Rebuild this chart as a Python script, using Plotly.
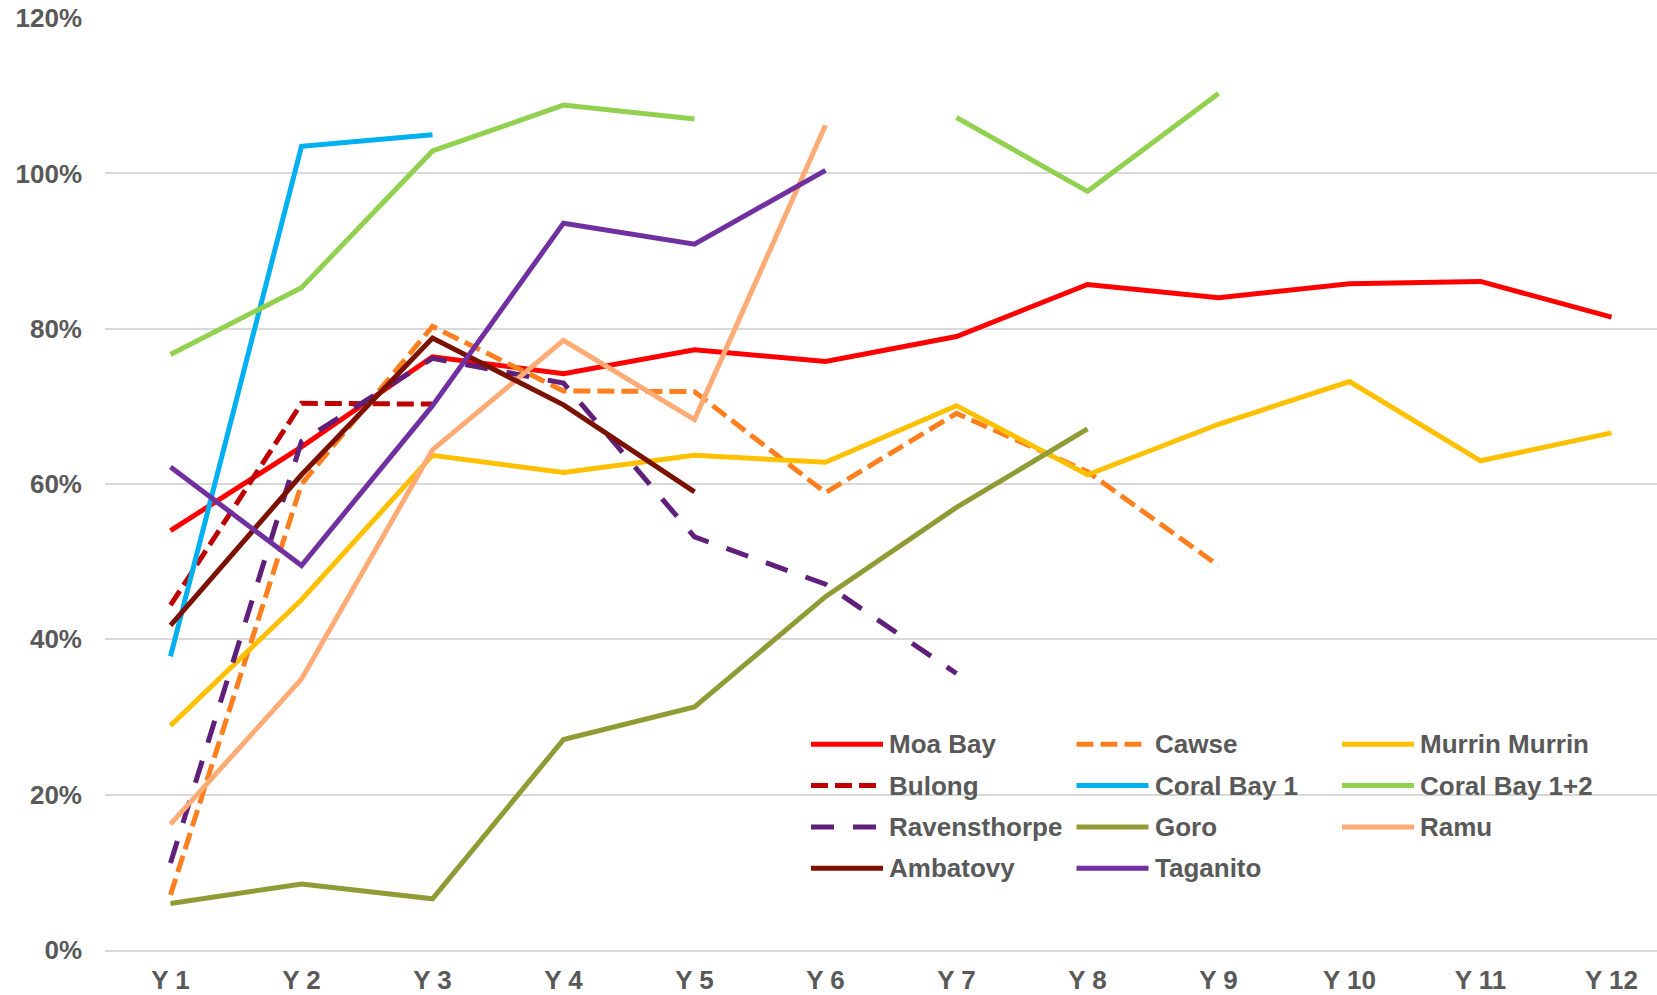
import plotly.graph_objects as go

# ---------------- data (percent) ----------------
categories = ["Y 1", "Y 2", "Y 3", "Y 4", "Y 5", "Y 6", "Y 7", "Y 8", "Y 9", "Y 10", "Y 11", "Y 12"]

moa_bay = [54.0, 64.8, 76.4, 74.2, 77.3, 75.8, 79.0, 85.7, 84.0, 85.8, 86.1, 81.5]
cawse = [7.1, 60.0, 80.3, 72.0, 71.9, 58.9, 69.1, 61.6, 49.5, None, None, None]
murrin_murrin = [28.9, 45.1, 63.7, 61.5, 63.7, 62.8, 70.1, 61.2, 67.7, 73.2, 63.0, 66.6]
bulong = [44.4, 70.4, 70.3, None, None, None, None, None, None, None, None, None]
coral_bay_1 = [37.8, 103.5, 105.0, None, None, None, None, None, None, None, None, None]
coral_bay_12 = [76.7, 85.3, 102.9, 108.8, 107.0, None, 107.2, 97.7, 110.3, None, None, None]
ravensthorpe = [11.2, 65.5, 76.2, 73.0, 53.2, 47.1, 35.6, None, None, None, None, None]
goro = [6.0, 8.5, 6.6, 27.1, 31.3, 45.5, 57.0, 67.1, None, None, None, None]
ramu = [16.2, 34.9, 64.4, 78.5, 68.3, 106.2, None, None, None, None, None, None]
ambatovy = [41.8, 61.2, 78.8, 70.2, 59.0, None, None, None, None, None, None, None]
taganito = [62.2, 49.5, 70.1, 93.6, 90.9, 100.4, None, None, None, None, None, None]

y_tick_values = [0, 20, 40, 60, 80, 100, 120]
y_tick_labels = ["0%", "20%", "40%", "60%", "80%", "100%", "120%"]

series_names = ["Moa Bay", "Cawse", "Murrin Murrin", "Bulong", "Coral Bay 1", "Coral Bay 1+2",
                "Ravensthorpe", "Goro", "Ramu", "Ambatovy", "Taganito"]
series_values = [moa_bay, cawse, murrin_murrin, bulong, coral_bay_1, coral_bay_12,
                 ravensthorpe, goro, ramu, ambatovy, taganito]

# ---------------- styles ----------------
colors = {
    "Moa Bay": "#FF0000",
    "Cawse": "#FF7F1F",
    "Murrin Murrin": "#FFC000",
    "Bulong": "#C00000",
    "Coral Bay 1": "#00B0F0",
    "Coral Bay 1+2": "#92D050",
    "Ravensthorpe": "#5F1F7A",
    "Goro": "#8F9C36",
    "Ramu": "#FFAB76",
    "Ambatovy": "#7B1100",
    "Taganito": "#7030A0",
}
short_dash = "17px,7px"
long_dash = "23px,19px"
dashes = {"Cawse": short_dash, "Bulong": short_dash, "Ravensthorpe": long_dash}

LW = 5
TEXT = "#595959"
FONT = "Liberation Sans, Arial, sans-serif"

# page geometry (body margin removed, figure fills the window)
W, H = 1657, 995
PL, PT, PB, PR = 105, 18, 950, 1657          # plot area in page pixels
ML, MT, MR, MB = PL, PT, W - PR, H - PB
PW, PH = PR - PL, PB - PT
CAT_PX = 131.0
Y_MAX = 120.02

fig = go.Figure()
for name, vals in zip(series_names, series_values):
    fig.add_trace(go.Scatter(
        x=categories, y=vals, name=name, mode="lines",
        line=dict(color=colors[name], width=LW, dash=dashes.get(name, "solid")),
        connectgaps=False, showlegend=False,
    ))

# ---------------- legend (3 columns, row-major) ----------------
def px_x(px):
    return (px - PL) / PW

def px_y(py):
    return (PB - py) / PH

leg_x0 = 811
leg_col_w = 265.5
leg_y0 = 744.3
leg_row_h = 41.3
swatch_len = 72
text_off = 76

shapes = []
annotations = []
for i, name in enumerate(series_names):
    r, c = divmod(i, 3)
    x0 = leg_x0 + c * leg_col_w
    y = leg_y0 + r * leg_row_h
    shapes.append(dict(
        type="line", xref="paper", yref="paper",
        x0=px_x(x0), x1=px_x(x0 + swatch_len), y0=px_y(y), y1=px_y(y),
        line=dict(color=colors[name], width=LW, dash=dashes.get(name, "solid")),
    ))
    annotations.append(dict(
        xref="paper", yref="paper", x=px_x(x0 + text_off), y=px_y(y),
        xanchor="left", yanchor="middle", text=name, showarrow=False,
        font=dict(family=FONT, size=26, color=TEXT, weight="bold"),
    ))

fig.update_layout(
    width=W, height=H,
    margin=dict(l=ML, r=MR, t=MT, b=MB, pad=0, autoexpand=False),
    paper_bgcolor="white", plot_bgcolor="white",
    font=dict(family=FONT, size=26, color=TEXT, weight="bold"),
    showlegend=False,
    shapes=shapes,
    annotations=annotations,
    xaxis=dict(
        type="category", categoryorder="array", categoryarray=categories,
        range=[-0.5, -0.5 + PW / CAT_PX],
        showgrid=False, zeroline=False, automargin=False,
        showline=True, linecolor="#D9D9D9", linewidth=1.5,
        ticks="", ticklabelstandoff=6, ticklabeloverflow="allow",
        tickfont=dict(family=FONT, size=26, color=TEXT, weight="bold"),
    ),
    yaxis=dict(
        range=[0, Y_MAX], tickvals=y_tick_values, ticktext=y_tick_labels,
        showgrid=True, gridcolor="#D9D9D9", gridwidth=1.5,
        zeroline=False, showline=False, ticks="", automargin=False,
        ticklabelstandoff=22, ticklabeloverflow="allow",
        tickfont=dict(family=FONT, size=26, color=TEXT, weight="bold"),
    ),
)

fig.write_html(
    "out.html",
    config={"displayModeBar": False},
    post_script="document.body.style.margin='0';document.body.style.overflow='hidden';",
)
